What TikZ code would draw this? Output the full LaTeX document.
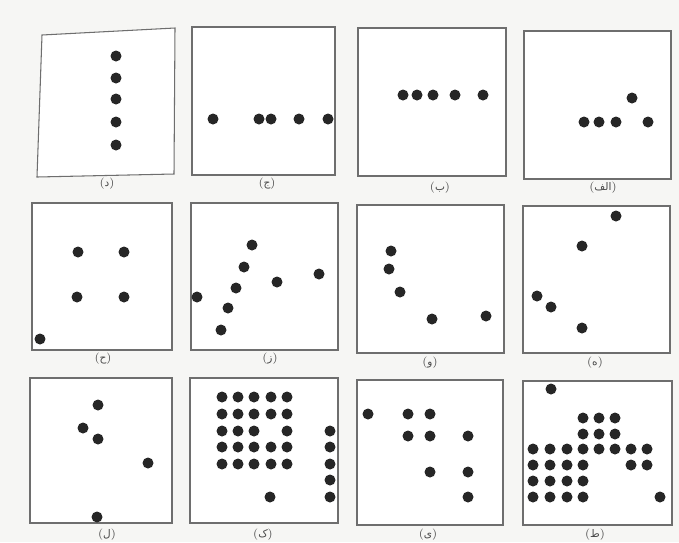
\documentclass[tikz,border=0pt]{standalone}
\usepackage{fontspec}
\newfontfamily\arabicfont[Script=Arabic]{DejaVu Sans}
\TeXXeTstate=1
\usetikzlibrary{positioning}
\definecolor{paper}{HTML}{F6F6F4}
\definecolor{inkdot}{HTML}{262626}
\definecolor{framegray}{HTML}{6E6E6E}
\tikzset{
  panel/.style={draw=framegray, line width=0.6pt, fill=white},
  dot/.style={fill=inkdot},
  caption/.style={font=\fontsize{6.5}{7}\selectfont, text=inkdot!85, inner sep=0pt},
}
\newcommand{\ar}[1]{({\arabicfont\fontsize{6}{7}\selectfont\beginR #1\endR})}

\begin{document}
\begin{tikzpicture}[x=0.02cm, y=-0.02cm]

  \fill[paper] (0,0) rectangle (679,542);
  \useasboundingbox (0,0) rectangle (679,542);

  % row 1
  \draw[panel] (42,35) -- (175,28) -- (174,174) -- (37,177) -- cycle;
  \draw[panel] (192,27) rectangle (335,175);
  \draw[panel] (358,28) rectangle (506,176);
  \draw[panel] (524,31) rectangle (671,179);

  \foreach \y in {56,78,99,122,145}
    \fill[dot] (116,\y) circle (0.11cm);
  \foreach \x in {213,259,271,299,328}
    \fill[dot] (\x,119) circle (0.11cm);
  \foreach \x in {403,417,433,455,483}
    \fill[dot] (\x,95) circle (0.11cm);
  \foreach \x/\y in {584/122,599/122,616/122,648/122,632/98}
    \fill[dot] (\x,\y) circle (0.11cm);

  \node[caption] (capd)   at (107,184) {\ar{د}};
  \node[caption] (capj)   at (267,184) {\ar{ج}};
  \node[caption] (capb)   at (440,188) {\ar{ب}};
  \node[caption] (capalf) at (603,188) {\ar{الف}};

  % row 2
  \draw[panel] (32,203) rectangle (172,350);
  \draw[panel] (191,203) rectangle (338,350);
  \draw[panel] (357,205) rectangle (504,353);
  \draw[panel] (523,206) rectangle (670,353);

  \foreach \x/\y in {78/252,124/252,77/297,124/297,40/339}
    \fill[dot] (\x,\y) circle (0.11cm);
  \foreach \x/\y in {252/245,244/267,236/288,228/308,221/330,197/297,277/282,319/274}
    \fill[dot] (\x,\y) circle (0.11cm);
  \foreach \x/\y in {391/251,389/269,400/292,432/319,486/316}
    \fill[dot] (\x,\y) circle (0.11cm);
  \foreach \x/\y in {616/216,582/246,537/296,551/307,582/328}
    \fill[dot] (\x,\y) circle (0.11cm);

  \node[caption] (caph)  at (103,359) {\ar{ح}};
  \node[caption] (capz)  at (270,359) {\ar{ز}};
  \node[caption] (capv)  at (430,363) {\ar{و}};
  \node[caption] (caphe) at (595,363) {\ar{ه}};

  % row 3
  \draw[panel] (30,378) rectangle (172,523);
  \draw[panel] (190,378) rectangle (338,523);
  \draw[panel] (357,380) rectangle (503,525);
  \draw[panel] (523,381) rectangle (672,525);

  \foreach \x/\y in {98/405,83/428,98/439,148/463,97/517}
    \fill[dot] (\x,\y) circle (0.11cm);

  \foreach \x in {222,238,254,271,287}
    \foreach \y in {397,414,447,464}
      \fill[dot] (\x,\y) circle (0.11cm);
  \foreach \x in {222,238,254,287}
    \fill[dot] (\x,431) circle (0.11cm);
  \foreach \y in {431,447,464,480,497}
    \fill[dot] (330,\y) circle (0.11cm);
  \fill[dot] (270,497) circle (0.11cm);

  \foreach \x/\y in {368/414,408/414,430/414,408/436,430/436,468/436,430/472,468/472,468/497}
    \fill[dot] (\x,\y) circle (0.11cm);

  \fill[dot] (551,389) circle (0.11cm);
  \foreach \x in {583,599,615}
    \foreach \y in {418,434}
      \fill[dot] (\x,\y) circle (0.11cm);
  \foreach \x in {533,550,567,583,599,615,631,647}
    \fill[dot] (\x,449) circle (0.11cm);
  \foreach \x in {533,550,567,583,631,647}
    \fill[dot] (\x,465) circle (0.11cm);
  \foreach \x in {533,550,567,583}
    \foreach \y in {481,497}
      \fill[dot] (\x,\y) circle (0.11cm);
  \fill[dot] (660,497) circle (0.11cm);

  \node[caption] (capl) at (107,535) {\ar{ل}};
  \node[caption] (capk) at (263,535) {\ar{ک}};
  \node[caption] (capy) at (428,535) {\ar{ی}};
  \node[caption] (capt) at (595,535) {\ar{ط}};

\end{tikzpicture}
\end{document}
